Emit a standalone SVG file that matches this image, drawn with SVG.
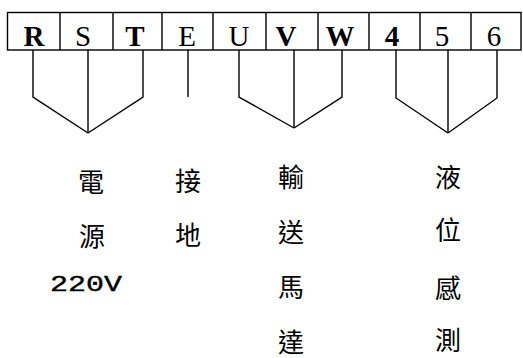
<svg xmlns="http://www.w3.org/2000/svg" width="523" height="358" viewBox="0 0 523 358">
<style>
.bx{fill:none;stroke:#000;stroke-width:1.4}
.ln{fill:none;stroke:#000;stroke-width:1.4;stroke-linejoin:miter}
.lt{font-family:"Liberation Serif","Times New Roman",serif;font-size:29px;text-anchor:middle;fill:#000}
.b{font-weight:bold}
.cj{font-family:"Noto Sans CJK TC","Noto Sans CJK SC",sans-serif;font-size:26px;text-anchor:middle;dominant-baseline:central;fill:#000}
.v{font-family:"Liberation Mono","Courier New",monospace;font-size:22px;fill:#000;stroke:#000;stroke-width:0.4}
</style>
<rect width="523" height="358" fill="#fff"/>
<g id="terminal-strip">
<rect class="bx" x="7.5" y="12.5" width="513.5" height="37.5"/>
<path class="bx" d="M60,12.5V50M113,12.5V50M162,12.5V50M213,12.5V50M266,12.5V50M318,12.5V50M369,12.5V50M420,12.5V50M471,12.5V50"/>
<g id="t-R"><text class="lt b" x="34" y="46">R</text></g>
<g id="t-S"><text class="lt" x="83" y="46">S</text></g>
<g id="t-T"><text class="lt b" x="135" y="46">T</text></g>
<g id="t-E"><text class="lt" x="187" y="46">E</text></g>
<g id="t-U"><text class="lt" x="239" y="46">U</text></g>
<g id="t-V"><text class="lt b" x="286" y="46">V</text></g>
<g id="t-W"><text class="lt b" x="340" y="46">W</text></g>
<g id="t-4"><text class="lt b" x="392" y="46">4</text></g>
<g id="t-5"><text class="lt" x="442" y="46">5</text></g>
<g id="t-6"><text class="lt" x="494" y="46">6</text></g>
</g>
<g id="connectors">
<path class="ln" d="M33,50V97L88,133"/>
<path class="ln" d="M88,50V133"/>
<path class="ln" d="M143,50V97L88,133"/>
<path class="ln" d="M188,50V97"/>
<path class="ln" d="M239,50V97L294,128"/>
<path class="ln" d="M294,50V128"/>
<path class="ln" d="M342,50V97L294,128"/>
<path class="ln" d="M396,50V98L448,133"/>
<path class="ln" d="M448,50V133"/>
<path class="ln" d="M497,50V98L448,133"/>
</g>
<g id="label-power">
<text class="cj" x="91" y="180">電</text>
<text class="cj" x="92" y="234">源</text>
<text class="v" x="50" y="291" textLength="72" lengthAdjust="spacingAndGlyphs">220V</text>
</g>
<g id="label-ground">
<text class="cj" x="188" y="179">接</text>
<text class="cj" x="188" y="233">地</text>
</g>
<g id="label-motor">
<text class="cj" x="291" y="175">輸</text>
<text class="cj" x="291" y="230">送</text>
<text class="cj" x="291" y="285">馬</text>
<text class="cj" x="291" y="340">達</text>
</g>
<g id="label-level">
<text class="cj" x="448" y="175">液</text>
<text class="cj" x="448" y="228">位</text>
<text class="cj" x="448" y="286">感</text>
<text class="cj" x="448" y="338">測</text>
</g>
</svg>
